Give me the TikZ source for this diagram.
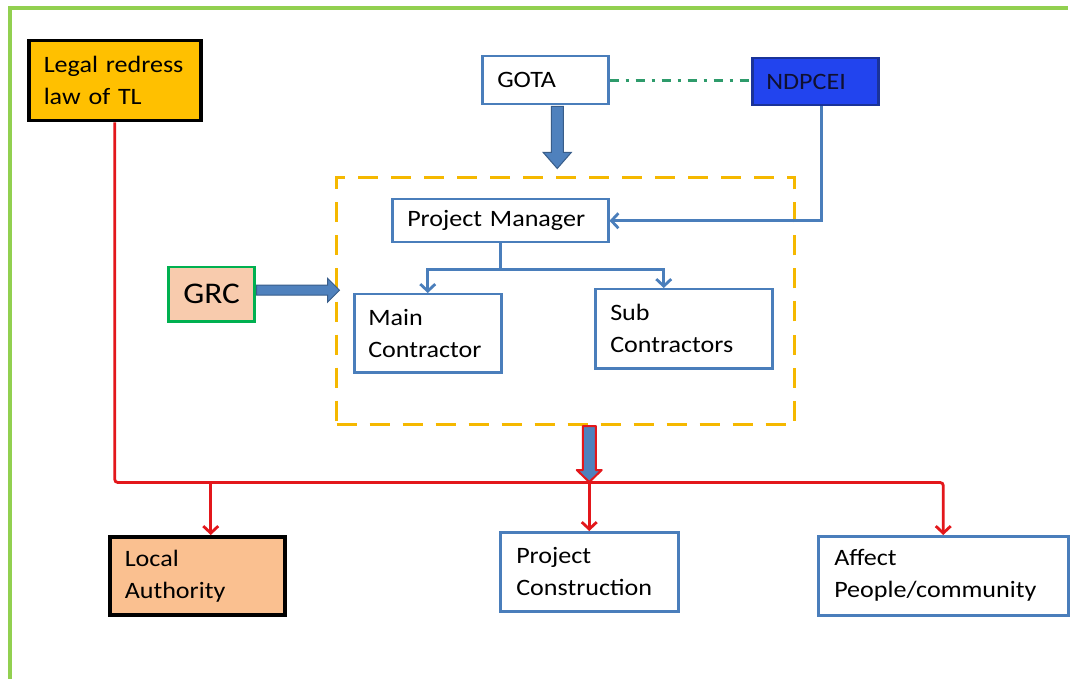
\documentclass[tikz,border=0pt]{standalone}
\usepackage{fontspec}
\setmainfont{Carlito}[FakeStretch=1.11]
\usetikzlibrary{arrows.meta,calc}
\definecolor{ofblue}{HTML}{4A7EBB}
\definecolor{ofblueF}{HTML}{4F81BD}
\definecolor{ofblueD}{HTML}{385D8A}
\definecolor{legalor}{HTML}{FFC000}
\definecolor{localor}{HTML}{FAC090}
\definecolor{grcfill}{HTML}{F8CBAD}
\definecolor{grcgreen}{HTML}{00B050}
\definecolor{ndpfill}{HTML}{2244EE}
\definecolor{ndpdraw}{HTML}{1A3399}
\definecolor{ndptext}{HTML}{101030}
\definecolor{redl}{HTML}{E3171B}
\definecolor{dashor}{HTML}{F5B800}
\definecolor{ddgreen}{HTML}{2E9B6B}
\definecolor{framegreen}{HTML}{92D050}
\tikzset{
  txt/.style={font=\fontsize{23.5}{32}\selectfont},
  box/.style={draw=ofblue, line width=2.5pt, fill=white, anchor=north west, align=left,
              inner xsep=15pt, inner ysep=0pt, txt},
  blackbox/.style={box, draw=black, line width=3.5pt},
  dashbox/.style={draw=dashor, line width=3pt, dash pattern=on 20pt off 13pt, anchor=north west},
  bluecon/.style={draw=ofblue, line width=2.8pt, -{Straight Barb[length=7pt,width=15pt]}},
  redcon/.style={draw=redl, line width=2.8pt, -{Straight Barb[length=7pt,width=15pt]}},
  redline/.style={draw=redl, line width=2.8pt},
  fatblue/.style={fill=ofblueF, draw=ofblueD, line width=1pt},
  fatred/.style={fill=ofblueF, draw=redl, line width=2pt, line join=round},
}
\begin{document}
\begin{tikzpicture}[x=1pt,y=-1pt]
\useasboundingbox[fill=white] (0,0) rectangle (1077,679);
\draw[framegreen, line width=4pt] (10,679) -- (10,8) -- (1068,8);

% container
\node[dashbox, minimum width=458pt, minimum height=247pt] (dbox) at (335,176) {};

% boxes
\node[blackbox, fill=legalor, minimum width=172pt, minimum height=80pt, text width=142pt] (legal) at (27,39) {Legal redress\\law of TL};
\node[box, minimum width=126pt, minimum height=48pt, text width=96pt] (gota) at (481,55) {GOTA};
\node[box, fill=ndpfill, draw=ndpdraw, text=ndptext, minimum width=126pt, minimum height=47pt, text width=98pt, inner xsep=14pt] (ndp) at (751,57) {NDPCEI};
\node[box, minimum width=216pt, minimum height=43pt, text width=186pt] (pm) at (391,198) {Project Manager};
\node[box, minimum width=147pt, minimum height=78pt, text width=119pt, inner xsep=14pt] (main) at (353,293) {Main\\Contractor};
\node[box, minimum width=177pt, minimum height=79pt, text width=147pt] (sub) at (594,288) {Sub\\Contractors};
\node[box, fill=grcfill, draw=grcgreen, minimum width=86pt, minimum height=54pt, text width=56pt, font=\fontsize{30}{36}\selectfont] (grc) at (167,266) {GRC};
\node[blackbox, fill=localor, minimum width=175pt, minimum height=78pt, text width=145pt] (local) at (108,535) {Local\\Authority};
\node[box, minimum width=178pt, minimum height=79pt, text width=146pt, inner xsep=16pt] (pc) at (499,531) {Project\\Construction};
\node[box, minimum width=250pt, minimum height=79pt, text width=218pt, inner xsep=16pt] (affect) at (817,535) {Affect\\People/community};

% GOTA - NDPCEI
\draw[ddgreen, line width=3pt, dash pattern=on 9pt off 7pt on 3pt off 7pt] (gota.east) -- (gota.east -| ndp.west);

% fat arrows
\draw[fatblue] ($(gota.south)+(6,1)$) -- ++(12,0) -- ++(0,46) -- ++(8,0) -- ++(-14,16) -- ++(-14,-16) -- ++(8,0) -- cycle;
\draw[fatblue] ($(grc.east)+(1,-9)$) -- ++(71,0) -- ++(0,-7) -- ++(12,12) -- ++(-12,12) -- ++(0,-7) -- ++(-71,0) -- cycle;

% blue connectors
\draw[bluecon] ($(ndp.south)+(6,0)$) |- (pm.east);
\coordinate (pmj) at ($(pm.south)+(0,26)$);
\draw[bluecon] (pm.south) -- (pmj) -| (main.north);
\coordinate (subx) at ($(sub.north)+(-20,0)$);
\draw[bluecon] (pmj) -| (subx);

% red bus
\coordinate (bus) at ($(legal.south)+(0,360)$);
\draw[redcon, rounded corners=3pt] (legal.south) -- (bus) -| (affect.north);
\coordinate (lax) at ($(local.north)+(13.5,0)$);
\draw[redcon] (lax |- bus) -- (lax);
\draw[redcon] (pc.north |- bus) -- (pc.north);

% bottom fat arrow
\draw[fatred] ($(pc.north |- dbox.south)+(-6.5,0)$) -- ++(13,0) -- ++(0,44) -- ++(6,0) -- ++(-12.5,12) -- ++(-12.5,-12) -- ++(6,0) -- cycle;
\end{tikzpicture}
\end{document}
